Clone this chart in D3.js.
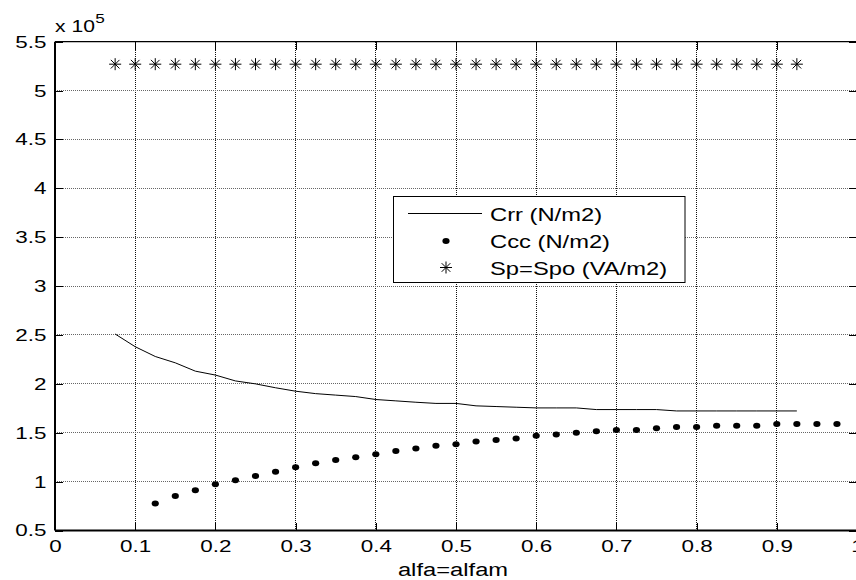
<!DOCTYPE html>
<html>
<head>
<meta charset="utf-8">
<script src="https://cdn.jsdelivr.net/npm/d3@7"></script>
<style>
  html, body { margin: 0; padding: 0; background: #fff; }
  svg { display: block; }
  text { font-family: "Liberation Sans", Arial, Helvetica, sans-serif; fill: #000; }
</style>
</head>
<body>
<svg id="chart" width="856" height="580"></svg>
<script>
// Values are in units of 1e5 (shown by the "x 10^5" multiplier above the y axis).
const crrAlpha = [0.075, 0.1, 0.125, 0.15, 0.175, 0.2, 0.225, 0.25, 0.275, 0.3, 0.325, 0.35,
  0.375, 0.4, 0.425, 0.45, 0.475, 0.5, 0.525, 0.55, 0.575, 0.6, 0.625, 0.65, 0.675, 0.7,
  0.725, 0.75, 0.775, 0.8, 0.825, 0.85, 0.875, 0.9, 0.925];
const crrValues = [2.51, 2.38, 2.28, 2.215, 2.13, 2.09, 2.03, 2.0, 1.96, 1.925, 1.90, 1.885,
  1.87, 1.84, 1.826, 1.812, 1.80, 1.80, 1.775, 1.768, 1.761, 1.754, 1.754, 1.754, 1.737, 1.737,
  1.737, 1.737, 1.723, 1.723, 1.723, 1.723, 1.723, 1.723, 1.723];

const cccAlpha = [0.125, 0.15, 0.175, 0.2, 0.225, 0.25, 0.275, 0.3, 0.325, 0.35, 0.375, 0.4,
  0.425, 0.45, 0.475, 0.5, 0.525, 0.55, 0.575, 0.6, 0.625, 0.65, 0.675, 0.7, 0.725, 0.75,
  0.775, 0.8, 0.825, 0.85, 0.875, 0.9, 0.925, 0.95, 0.975];
const cccValues = [0.777, 0.853, 0.911, 0.973, 1.014, 1.058, 1.102, 1.147, 1.189, 1.222, 1.250, 1.281,
  1.312, 1.339, 1.366, 1.382, 1.410, 1.425, 1.441, 1.469, 1.483, 1.50, 1.514, 1.528, 1.528, 1.545,
  1.559, 1.559, 1.572, 1.572, 1.572, 1.590, 1.590, 1.590, 1.590];

const spAlpha = [0.075, 0.1, 0.125, 0.15, 0.175, 0.2, 0.225, 0.25, 0.275, 0.3, 0.325, 0.35,
  0.375, 0.4, 0.425, 0.45, 0.475, 0.5, 0.525, 0.55, 0.575, 0.6, 0.625, 0.65, 0.675, 0.7,
  0.725, 0.75, 0.775, 0.8, 0.825, 0.85, 0.875, 0.9, 0.925];
const spValues = [5.27, 5.27, 5.27, 5.27, 5.27, 5.27, 5.27, 5.27, 5.27, 5.27, 5.27, 5.27,
  5.27, 5.27, 5.27, 5.27, 5.27, 5.27, 5.27, 5.27, 5.27, 5.27, 5.27, 5.27, 5.27, 5.27,
  5.27, 5.27, 5.27, 5.27, 5.27, 5.27, 5.27, 5.27, 5.27];

const xTicks = [0, 0.1, 0.2, 0.3, 0.4, 0.5, 0.6, 0.7, 0.8, 0.9, 1];
const xTickLabels = ["0", "0.1", "0.2", "0.3", "0.4", "0.5", "0.6", "0.7", "0.8", "0.9", "1"];
const yTicks = [0.5, 1, 1.5, 2, 2.5, 3, 3.5, 4, 4.5, 5, 5.5];
const yTickLabels = ["0.5", "1", "1.5", "2", "2.5", "3", "3.5", "4", "4.5", "5", "5.5"];
const legendLabels = ["Crr (N/m2)", "Ccc (N/m2)", "Sp=Spo (VA/m2)"];
const xLabel = "alfa=alfam";

// Text in this figure is rendered wide; stretch glyphs horizontally.
const SX = 1.32;

const svg = d3.select("#chart");
const L = 55, R = 857, T = 41.7, B = 530.5;
const x = d3.scaleLinear().domain([0, 1]).range([L, R]);
const y = d3.scaleLinear().domain([0.5, 5.5]).range([B, T]);

// dotted grid
const grid = svg.append("g");
grid.selectAll("line.vg").data(xTicks.slice(1, -1)).join("line")
  .attr("x1", d => x(d)).attr("x2", d => x(d)).attr("y1", T).attr("y2", B)
  .attr("stroke", "#111").attr("stroke-width", 1).attr("stroke-dasharray", "1,1")
  .attr("shape-rendering", "crispEdges");
grid.selectAll("line.hg").data(yTicks.slice(1, -1)).join("line")
  .attr("x1", L).attr("x2", R).attr("y1", d => y(d)).attr("y2", d => y(d))
  .attr("stroke", "#666").attr("stroke-width", 1).attr("stroke-dasharray", "1,1")
  .attr("shape-rendering", "crispEdges");

// axes with inward ticks
function styleAxis(g) {
  g.select(".domain").remove();
  g.selectAll(".tick line").attr("stroke", "#000").attr("stroke-width", 1)
    .attr("shape-rendering", "crispEdges");
}
const xAxis = svg.append("g").attr("transform", `translate(0,${B})`)
  .call(d3.axisBottom(x).tickValues(xTicks).tickFormat((d, i) => xTickLabels[i])
    .tickSizeInner(-8).tickSizeOuter(0).tickPadding(9.5));
styleAxis(xAxis);
xAxis.selectAll(".tick text").attr("font-size", 17)
  .attr("font-family", '"Liberation Sans", Arial, sans-serif')
  .attr("transform", `scale(${SX},1)`);

const yAxis = svg.append("g").attr("transform", `translate(${L},0)`)
  .call(d3.axisLeft(y).tickValues(yTicks).tickFormat((d, i) => yTickLabels[i])
    .tickSizeInner(-8).tickSizeOuter(0).tickPadding(8.5));
styleAxis(yAxis);
yAxis.selectAll(".tick text").attr("font-size", 17)
  .attr("font-family", '"Liberation Sans", Arial, sans-serif')
  .attr("x", -8.5 / SX)
  .attr("transform", `scale(${SX},1)`);

const topAxis = svg.append("g").attr("transform", `translate(0,${T})`)
  .call(d3.axisTop(x).tickValues(xTicks).tickFormat("").tickSizeInner(-8).tickSizeOuter(0));
styleAxis(topAxis);
const rightAxis = svg.append("g").attr("transform", `translate(${R},0)`)
  .call(d3.axisRight(y).tickValues(yTicks).tickFormat("").tickSizeInner(-8).tickSizeOuter(0));
styleAxis(rightAxis);

// frame
svg.append("line").attr("x1", L).attr("x2", R).attr("y1", B).attr("y2", B)
  .attr("stroke", "#000").attr("stroke-width", 2);
svg.append("line").attr("x1", L).attr("x2", L).attr("y1", T).attr("y2", B)
  .attr("stroke", "#000").attr("stroke-width", 2);
svg.append("line").attr("x1", L).attr("x2", R).attr("y1", T).attr("y2", T)
  .attr("stroke", "#000").attr("stroke-width", 1.2);
svg.append("line").attr("x1", R).attr("x2", R).attr("y1", T).attr("y2", B)
  .attr("stroke", "#000").attr("stroke-width", 1.2);

// exponent multiplier
const expo = svg.append("g").attr("transform", `translate(${L},32) scale(${SX},1)`);
expo.append("text").attr("x", 0).attr("y", 0).attr("font-size", 16).text("x 10");
expo.append("text").attr("x", 30.5).attr("y", -9).attr("font-size", 13).text("5");

// x-axis label
svg.append("text")
  .attr("transform", `translate(${(L + R) / 2 - 3},576) scale(${SX},1)`)
  .attr("text-anchor", "middle").attr("font-size", 18).text(xLabel);

// star marker path (MATLAB '*')
function starPath(s) {
  const d = s * 0.72;
  return `M${-s},0H${s}M0,${-s}V${s}M${-d},${-d}L${d},${d}M${-d},${d}L${d},${-d}`;
}

// Crr line
const line = d3.line().x(d => x(d[0])).y(d => y(d[1]));
svg.append("path").datum(crrAlpha.map((a, i) => [a, crrValues[i]]))
  .attr("d", line).attr("fill", "none").attr("stroke", "#000").attr("stroke-width", 1);

// Ccc dots
svg.append("g").selectAll("ellipse").data(cccAlpha.map((a, i) => [a, cccValues[i]])).join("ellipse")
  .attr("cx", d => x(d[0])).attr("cy", d => y(d[1])).attr("rx", 3.6).attr("ry", 3.0)
  .attr("fill", "#000");

// Sp stars
svg.append("g").selectAll("path").data(spAlpha.map((a, i) => [a, spValues[i]])).join("path")
  .attr("transform", d => `translate(${x(d[0])},${y(d[1])})`)
  .attr("d", starPath(6)).attr("stroke", "#000").attr("stroke-width", 1).attr("fill", "none");

// legend
const lg = svg.append("g");
lg.append("rect").attr("x", 393.5).attr("y", 196.5).attr("width", 291.5).attr("height", 86)
  .attr("fill", "#fff").attr("stroke", "#000").attr("stroke-width", 1);
const rowY = [213.5, 241, 267.5];
lg.append("line").attr("x1", 408).attr("x2", 482).attr("y1", rowY[0]).attr("y2", rowY[0])
  .attr("stroke", "#000").attr("stroke-width", 1);
lg.append("ellipse").attr("cx", 446).attr("cy", rowY[1]).attr("rx", 3.6).attr("ry", 3.0).attr("fill", "#000");
lg.append("path").attr("transform", `translate(446,${rowY[2]})`).attr("d", starPath(6))
  .attr("stroke", "#000").attr("stroke-width", 1).attr("fill", "none");
lg.selectAll("text").data(legendLabels).join("text")
  .attr("transform", (d, i) => `translate(490,${rowY[i] + 7}) scale(${SX},1)`)
  .attr("font-size", 18).text(d => d);
</script>
</body>
</html>
